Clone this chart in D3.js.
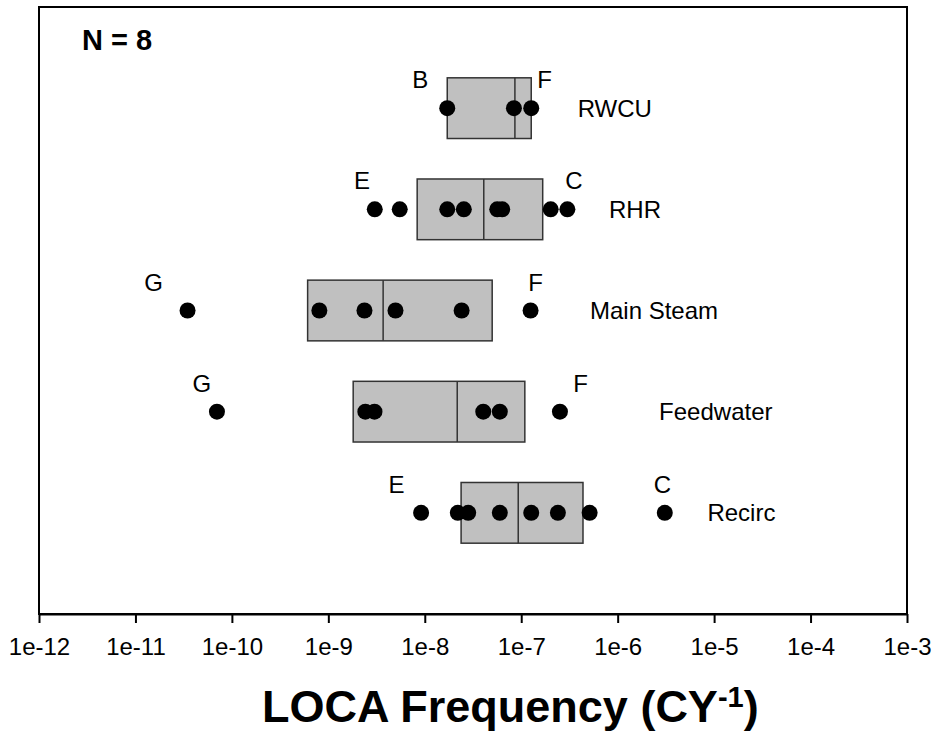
<!DOCTYPE html>
<meta charset="utf-8">
<style>
  body { margin: 0; background: #fff; }
  svg { font-family: "Liberation Sans", Arial, sans-serif; }
  .box rect { fill: #c0c0c0; stroke: #333; stroke-width: 1.5px; }
  .box line { stroke: #333; stroke-width: 1.5px; }
  .axis path, .axis line { stroke: #000; stroke-width: 2px; }
</style>
<body>
<div id="graph-container"></div>
<script src="https://d3js.org/d3.v7.min.js"></script>
<script>
  // categories, top to bottom
  var categories = ["RWCU", "RHR", "Main Steam", "Feedwater", "Recirc"];

  // individual plant estimates (CY^-1)
  var points = [
    [1.71e-8, 8.4e-8, 1.27e-7],
    [3.03e-9, 5.5e-9, 1.71e-8, 2.54e-8, 5.64e-8, 6.35e-8, 2.02e-7, 3.01e-7],
    [3.47e-11, 8.07e-10, 2.37e-9, 4.97e-9, 2.41e-8, 1.25e-7],
    [7.0e-11, 2.42e-9, 3.01e-9, 4.04e-8, 6.0e-8, 2.52e-7],
    [9.16e-9, 2.2e-8, 2.82e-8, 6.0e-8, 1.27e-7, 2.4e-7, 5.12e-7, 3.08e-6]
  ];

  // box: 25th percentile, median, 75th percentile
  var q1 = [1.71e-8, 8.34e-9, 6.1e-10, 1.81e-9, 2.38e-8];
  var median = [8.6e-8, 4.09e-8, 3.7e-9, 2.17e-8, 9.31e-8];
  var q3 = [1.27e-7, 1.67e-7, 5.0e-8, 1.09e-7, 4.37e-7];

  // plant letters for the low / high end and where they sit
  var lowLetter = ["B", "E", "G", "G", "E"];
  var lowLetterAt = [9.0e-9, 2.24e-9, 1.54e-11, 4.89e-11, 5.08e-9];
  var highLetter = ["F", "C", "F", "F", "C"];
  var highLetterAt = [1.75e-7, 3.52e-7, 1.41e-7, 4.13e-7, 2.91e-6];
  var nameAt = [3.85e-7, 8.13e-7, 5.16e-7, 2.69e-6, 8.53e-6];

  var tickValues = [1e-12, 1e-11, 1e-10, 1e-9, 1e-8, 1e-7, 1e-6, 1e-5, 1e-4, 1e-3];
  var tickLabels = ["1e-12", "1e-11", "1e-10", "1e-9", "1e-8", "1e-7", "1e-6", "1e-5", "1e-4", "1e-3"];

  var W = 933, H = 733,
      m = [7, 26, 119, 39], // top, right, bottom, left
      w = W - m[1] - m[3],
      h = H - m[0] - m[2];

  var x = d3.scaleLog().domain([1e-12, 1e-3]).range([0, w]);
  var y = d3.scaleLinear().domain([0, 6]).range([h, 0]);
  var pos = function(i) { return y(categories.length - i); };

  var svg = d3.select("#graph-container").append("svg")
      .attr("width", W)
      .attr("height", H)
      .append("g")
      .attr("transform", "translate(" + m[3] + "," + m[0] + ")");

  // frame
  svg.append("rect")
      .attr("width", w)
      .attr("height", h)
      .attr("fill", "none")
      .attr("stroke", "#000")
      .attr("stroke-width", 2);

  // x axis
  var xAxis = d3.axisBottom(x)
      .tickValues(tickValues)
      .tickFormat(function(d, i) { return tickLabels[i]; })
      .tickSize(9)
      .tickSizeOuter(0);

  var gx = svg.append("g")
      .attr("class", "axis")
      .attr("transform", "translate(0," + h + ")")
      .call(xAxis);
  gx.selectAll("text")
      .attr("y", 24)
      .attr("dy", "0.71em")
      .style("font-size", "24px")
      .attr("fill", "#000");

  // boxes
  var rows = svg.selectAll(".row")
      .data(categories)
      .enter().append("g")
      .attr("class", "row");

  var bh = y(0) - y(0.6);

  rows.append("g").attr("class", "box").each(function(d, i) {
    var g = d3.select(this);
    g.append("rect")
        .attr("x", x(q1[i]))
        .attr("y", pos(i) - bh / 2)
        .attr("width", x(q3[i]) - x(q1[i]))
        .attr("height", bh);
    g.append("line")
        .attr("x1", x(median[i])).attr("x2", x(median[i]))
        .attr("y1", pos(i) - bh / 2).attr("y2", pos(i) + bh / 2);
  });

  // dots
  rows.each(function(d, i) {
    d3.select(this).selectAll("circle")
        .data(points[i])
        .enter().append("circle")
        .attr("cx", function(v) { return x(v); })
        .attr("cy", pos(i))
        .attr("r", 8)
        .attr("fill", "#000");
  });

  // category names
  rows.append("text")
      .attr("x", function(d, i) { return x(nameAt[i]); })
      .attr("y", function(d, i) { return pos(i); })
      .attr("dy", "0.35em")
      .style("font-size", "24px")
      .text(function(d) { return d; });

  // plant letters
  rows.append("text")
      .attr("x", function(d, i) { return x(lowLetterAt[i]); })
      .attr("y", function(d, i) { return pos(i) - 20; })
      .attr("text-anchor", "middle")
      .style("font-size", "24px")
      .text(function(d, i) { return lowLetter[i]; });
  rows.append("text")
      .attr("x", function(d, i) { return x(highLetterAt[i]); })
      .attr("y", function(d, i) { return pos(i) - 20; })
      .attr("text-anchor", "middle")
      .style("font-size", "24px")
      .text(function(d, i) { return highLetter[i]; });

  // N = 8
  svg.append("text")
      .attr("x", 43)
      .attr("y", 43)
      .style("font-size", "29px")
      .style("font-weight", "bold")
      .text("N = 8");

  // axis title (superscript shift in px so the ")" comes back to the baseline)
  var title = svg.append("text")
      .attr("x", 223)
      .attr("y", H - m[0] - 11)
      .style("font-size", "45px")
      .style("font-weight", "bold");
  title.append("tspan").text("LOCA Frequency (CY");
  title.append("tspan").attr("dy", -15).style("font-size", "29px").text("-1");
  title.append("tspan").attr("dy", 15).text(")");
</script>
</body>
